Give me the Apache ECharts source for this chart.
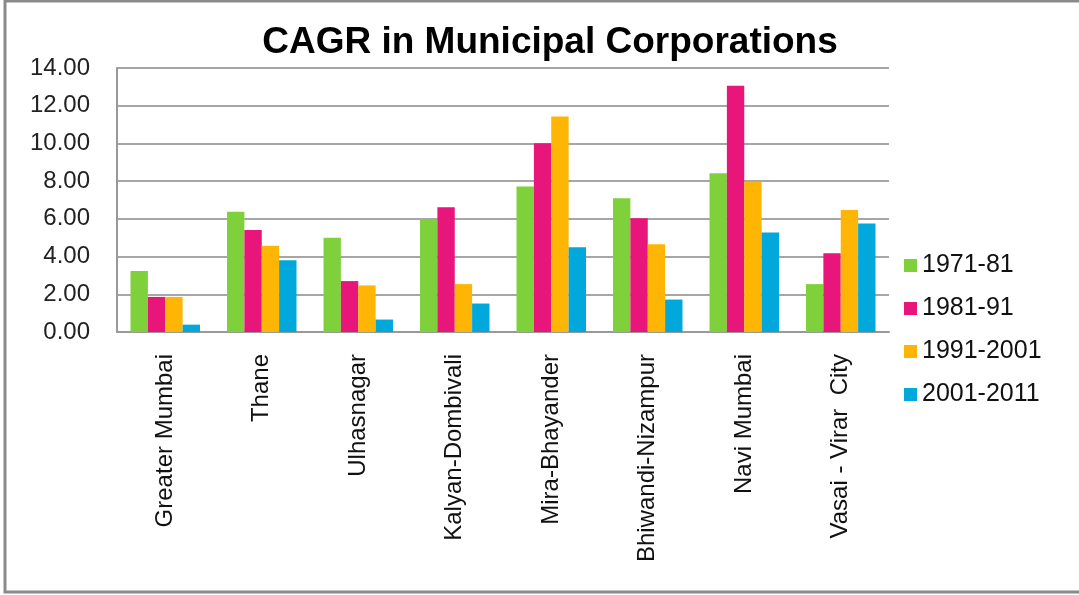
<!DOCTYPE html>
<html>
<head>
<meta charset="utf-8">
<script src="https://cdn.jsdelivr.net/npm/echarts@6/dist/echarts.min.js"></script>
<style>
  html, body { margin: 0; padding: 0; background: #fff; }
  #chart { width: 1079px; height: 595px; }
</style>
</head>
<body>
<div id="chart"></div>
<script>
const cities = ['Greater Mumbai', 'Thane', 'Ulhasnagar', 'Kalyan-Dombivali', 'Mira-Bhayander', 'Bhiwandi-Nizampur', 'Navi Mumbai', 'Vasai - Virar  City']
const periods = ['1971-81', '1981-91', '1991-2001', '2001-2011']
const cagr1971 = [3.24, 6.38, 5.00, 5.99, 7.71, 7.09, 8.42, 2.54]
const cagr1981 = [1.86, 5.41, 2.70, 6.61, 10.01, 6.03, 13.06, 4.17]
const cagr1991 = [1.86, 4.57, 2.47, 2.54, 11.43, 4.65, 7.97, 6.47]
const cagr2001 = [0.39, 3.81, 0.66, 1.51, 4.50, 1.72, 5.28, 5.76]
const colors = ['#7fd13b', '#e8157b', '#ffb503', '#00a8dc']

const chart = echarts.init(document.getElementById('chart'))

// 每个时期一组柱子
const seriesData = [cagr1971, cagr1981, cagr1991, cagr2001]
const series = periods.map((p, i) => ({
  name: p,
  type: 'bar',
  data: seriesData[i],
  barGap: '0%',
  barCategoryGap: '28%',
  itemStyle: { color: colors[i] }
}))

chart.setOption({
  animation: false,
  textStyle: { fontFamily: 'Liberation Sans, Arial, sans-serif' },
  title: {
    text: 'CAGR in Municipal Corporations',
    left: 545,
    textAlign: 'center',
    top: 19,
    textStyle: { fontSize: 37, fontWeight: 'bold', color: '#000' }
  },
  legend: {
    orient: 'vertical',
    left: 899,
    top: 248,
    itemWidth: 13,
    itemHeight: 13,
    itemGap: 18,
    icon: 'rect',
    textStyle: { fontSize: 25, color: '#111' },
    data: periods
  },
  grid: { left: 117, right: 190, top: 68, bottom: 263, containLabel: false },
  xAxis: {
    type: 'category',
    data: cities,
    axisLine: { lineStyle: { color: '#999', width: 2 } },
    axisTick: { show: false },
    axisLabel: { rotate: 90, fontSize: 24, color: '#111', margin: 22, interval: 0 }
  },
  yAxis: {
    type: 'value',
    min: 0,
    max: 14,
    interval: 2,
    axisLine: { show: true, lineStyle: { color: '#999', width: 2 } },
    axisTick: { show: false },
    splitLine: { lineStyle: { color: '#a6a6a6', width: 2 } },
    axisLabel: { fontSize: 24, color: '#222', margin: 27, formatter: v => v.toFixed(2) }
  },
  // 外框：上、左、下三边
  graphic: [{
    type: 'polyline',
    shape: { points: [[1079, 1], [5, 1], [5, 592], [1079, 592]] },
    style: { fill: 'none', stroke: '#8a8a8a', lineWidth: 3 }
  }],
  series
})
</script>
</body>
</html>
